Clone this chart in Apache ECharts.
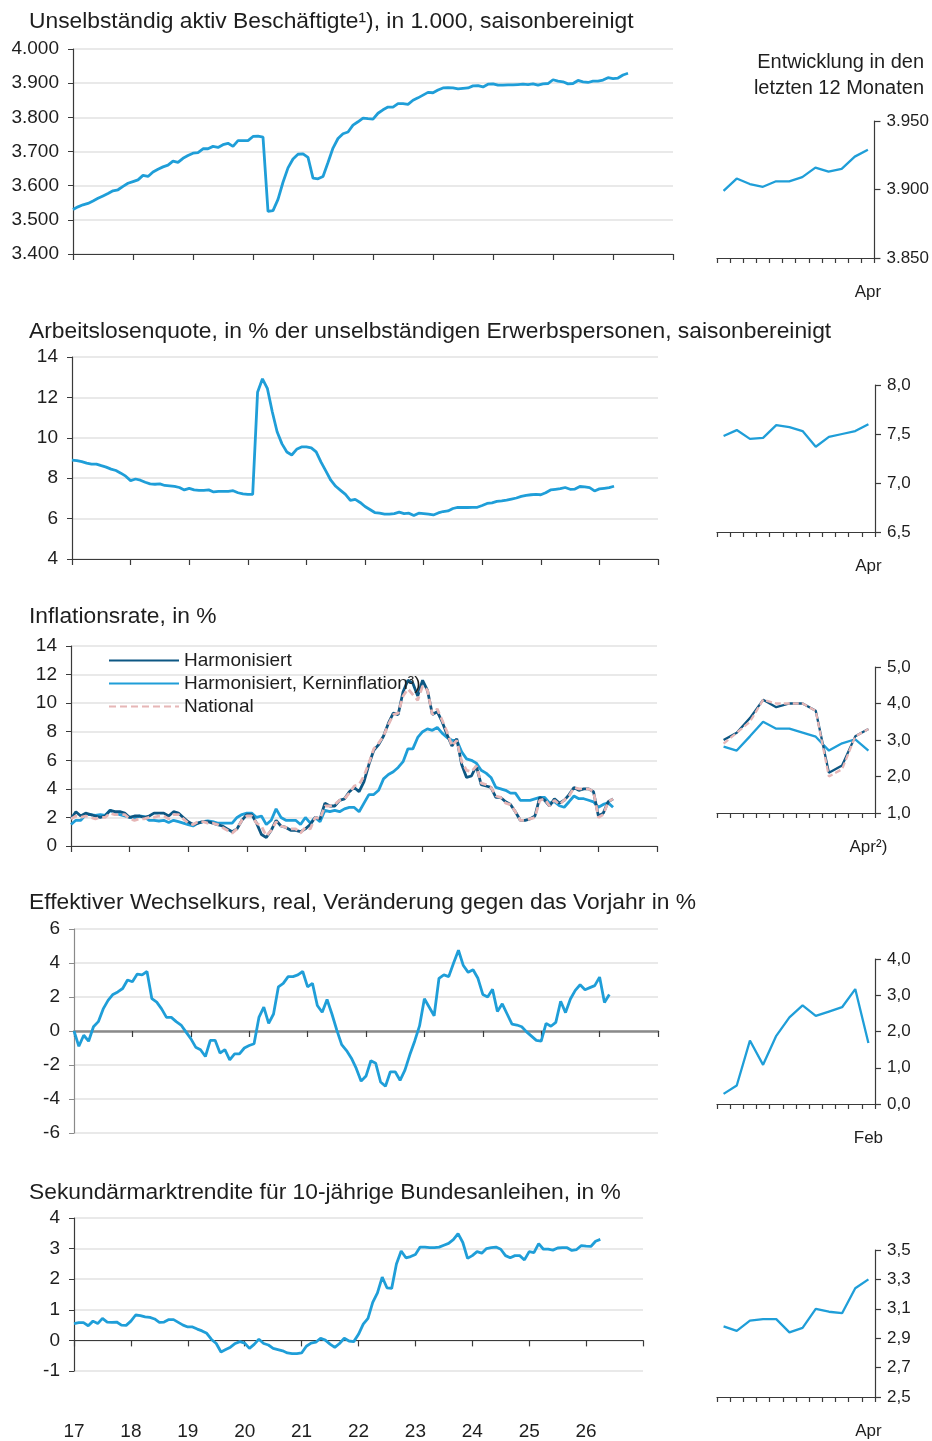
<!DOCTYPE html>
<html>
<head>
<meta charset="utf-8">
<script src="https://cdn.jsdelivr.net/npm/echarts@6/dist/echarts.min.js"></script>
<style>
  html, body { margin: 0; padding: 0; background: #fff; }
  #chart { width: 932px; height: 1441px; }
</style>
</head>
<body>
<div id="chart"></div>
<script>
// monthly data, Jan 2017 onwards
const employment = [
  3530, 3538, 3544, 3548, 3555, 3563, 3570, 3577, 3585, 3588, 3598, 3607,
  3612, 3617, 3630, 3627, 3640, 3648, 3655, 3660, 3672, 3668, 3680, 3688,
  3695, 3697, 3708, 3708, 3715, 3712, 3720, 3724, 3715, 3732, 3732, 3732,
  3744, 3745, 3742, 3525, 3527, 3560, 3610, 3652, 3678, 3692, 3693, 3683,
  3622, 3620, 3627, 3668, 3710, 3738, 3752, 3757, 3777, 3787, 3798, 3796,
  3795, 3812, 3822, 3830, 3830, 3840, 3840, 3838, 3850, 3857, 3865, 3873,
  3872, 3880, 3886, 3887, 3886, 3883, 3885, 3886, 3892, 3893, 3889, 3897,
  3898, 3894, 3894, 3895, 3895, 3896, 3897, 3896, 3898, 3894, 3898, 3899,
  3910, 3906, 3904, 3898, 3899, 3908, 3904, 3902, 3906, 3906, 3909, 3916,
  3913, 3915, 3924, 3929
];
const unemployment = [
  8.9, 8.87, 8.82, 8.75, 8.7, 8.7, 8.62, 8.55, 8.45, 8.38, 8.25, 8.1,
  7.88, 7.96, 7.9, 7.8, 7.72, 7.7, 7.72, 7.64, 7.62, 7.6, 7.54, 7.42,
  7.5, 7.42, 7.4, 7.4, 7.42, 7.32, 7.35, 7.35, 7.35, 7.38, 7.28, 7.22,
  7.2, 7.2, 12.25, 12.92, 12.45, 11.3, 10.3, 9.7, 9.3, 9.15, 9.43, 9.55,
  9.55, 9.5, 9.3, 8.8, 8.35, 7.9, 7.6, 7.4, 7.2, 6.9, 6.95, 6.8,
  6.6, 6.45, 6.3, 6.27, 6.22, 6.22, 6.25, 6.32, 6.25, 6.27, 6.15, 6.27,
  6.25, 6.22, 6.18, 6.28, 6.35, 6.38, 6.5, 6.55, 6.55, 6.55, 6.56, 6.56,
  6.65, 6.75, 6.78, 6.85, 6.88, 6.92, 6.97, 7.02, 7.1, 7.15, 7.18, 7.2,
  7.18, 7.28, 7.42, 7.45, 7.48, 7.54, 7.45, 7.46, 7.59, 7.57, 7.53, 7.37,
  7.47, 7.5, 7.53, 7.6
];
const hicp = [
  1.9, 2.4, 2.1, 2.3, 2.2, 2.1, 2.0, 2.1, 2.5, 2.4, 2.4, 2.3,
  2.0, 2.1, 2.1, 2.0, 2.1, 2.3, 2.3, 2.3, 2.1, 2.4, 2.3, 2.0,
  1.7, 1.5, 1.6, 1.7, 1.7, 1.6, 1.5, 1.4, 1.2, 1.0, 1.2, 1.8,
  2.2, 2.2, 1.6, 0.8, 0.6, 1.1, 1.8, 1.4, 1.3, 1.1, 1.1, 1.0,
  1.2, 1.5, 2.0, 1.9, 3.0, 2.8, 2.8, 3.2, 3.3, 3.8, 4.1, 3.8,
  4.5, 5.7, 6.7, 7.1, 7.7, 8.6, 9.3, 9.2, 10.8, 11.6, 11.4, 10.5,
  11.6, 10.9, 9.2, 9.4, 8.7, 7.8, 7.0, 7.5, 5.7, 4.8, 4.9, 5.6,
  4.3, 4.2, 4.1, 3.4, 3.4, 3.1, 2.9, 2.4, 1.8, 1.8, 1.9, 2.1,
  3.4, 3.2, 2.8, 3.3, 3.0, 3.2, 3.6, 4.1, 3.9, 4.0, 4.0, 3.8,
  2.1, 2.3, 3.1, 3.3
];
const hicpCore = [
  1.5, 1.8, 1.8, 2.2, 2.2, 2.15, 2.2, 2.15, 2.5, 2.3, 2.2, 2.1,
  2.0, 1.95, 2.1, 2.05, 1.8, 1.8, 1.75, 1.8, 1.65, 1.8, 1.7, 1.6,
  1.5, 1.4, 1.6, 1.7, 1.75, 1.7, 1.6, 1.6, 1.6, 1.6, 2.0, 2.2,
  2.3, 2.3, 2.0, 2.1, 1.5, 1.8, 2.6, 2.0, 1.8, 1.8, 1.8, 1.5,
  2.0, 1.6, 2.0, 1.7, 2.5, 2.4, 2.5, 2.4, 2.6, 2.7, 2.7, 2.4,
  3.0, 3.6, 3.6, 3.9, 4.7, 5.0, 5.2, 5.5, 5.9, 6.8, 6.8, 7.6,
  8.0, 8.2, 8.1, 8.3, 7.9, 7.6, 7.4, 7.4, 6.6, 6.1, 6.0, 5.8,
  5.3, 5.1, 4.8, 4.1, 4.0, 3.9, 3.7, 3.7, 3.2, 3.2, 3.2, 3.3,
  3.4, 3.4, 3.0, 3.1, 2.82, 2.71, 3.1, 3.5, 3.31, 3.31, 3.2, 3.09,
  2.71, 2.91, 3.02, 2.71
];
const cpiNational = [
  1.9, 2.1, 2.0, 2.1, 2.0, 1.9, 2.0, 2.0, 2.3, 2.2, 2.2, 2.2,
  1.9, 1.8, 1.9, 1.9, 2.0, 2.0, 2.1, 2.1, 1.9, 2.2, 2.2, 1.9,
  1.6, 1.5, 1.7, 1.7, 1.6, 1.6, 1.5, 1.3, 1.1, 0.9, 1.2, 1.8,
  2.1, 2.1, 1.6, 1.4, 0.7, 1.1, 1.7, 1.4, 1.3, 1.2, 1.2, 0.9,
  1.3, 1.2, 2.0, 1.9, 2.8, 2.8, 2.9, 3.2, 3.3, 3.7, 4.2, 4.3,
  4.9, 5.8, 6.8, 7.2, 7.7, 8.5, 9.2, 9.3, 10.5, 11.0, 10.6, 10.2,
  11.2, 10.9, 9.2, 9.6, 8.8, 8.0, 7.0, 7.4, 5.9, 5.3, 5.2, 5.6,
  4.4, 4.3, 4.1, 3.5, 3.4, 3.0, 2.9, 2.4, 1.8, 1.8, 1.9, 2.0,
  3.2, 3.3, 2.8, 3.2, 2.9, 3.2, 3.5, 4.1, 4.0, 4.0, 4.0, 3.8,
  2.0, 2.2, 3.1, 3.3
];
const exchangeRate = [
  0.0, -0.9, -0.25, -0.6, 0.25, 0.55, 1.3, 1.8, 2.15, 2.3, 2.5, 3.0,
  2.9, 3.35, 3.3, 3.5, 1.9, 1.7, 1.3, 0.8, 0.8, 0.55, 0.35, -0.05,
  -0.45, -0.95, -1.1, -1.5, -0.55, -0.55, -1.3, -1.1, -1.7, -1.35, -1.35, -1.0,
  -0.85, -0.75, 0.8, 1.4, 0.45, 1.0, 2.6, 2.8, 3.2, 3.2, 3.3, 3.5,
  2.6, 2.8, 1.5, 1.1, 1.85, 1.0, 0.05, -0.8, -1.15, -1.6, -2.2, -2.95,
  -2.65, -1.75, -1.9, -3.0, -3.25, -2.4, -2.4, -2.9, -2.3, -1.4, -0.6, 0.3,
  1.9, 1.4, 0.9, 3.1, 3.3, 3.2, 4.0, 4.75, 3.85, 3.45, 3.6, 3.1,
  2.15, 2.0, 2.45, 1.15, 1.6, 1.0, 0.4, 0.35, 0.25, -0.05, -0.3, -0.55,
  -0.6, 0.45, 0.28, 0.51, 1.75, 1.08, 1.88, 2.39, 2.72, 2.43, 2.55, 2.67,
  3.17, 1.68, 2.15
];
const bondYield = [
  0.55, 0.58, 0.58, 0.48, 0.63, 0.55, 0.72, 0.6, 0.59, 0.6, 0.5, 0.49,
  0.63, 0.83, 0.81, 0.77, 0.75, 0.7, 0.59, 0.6, 0.68, 0.68, 0.59, 0.5,
  0.44, 0.44, 0.37, 0.31, 0.23, 0.03, -0.1, -0.38, -0.3, -0.22, -0.1, -0.04,
  -0.09, -0.26, -0.13, 0.04, -0.1, -0.15, -0.26, -0.3, -0.34, -0.41, -0.43, -0.43,
  -0.41, -0.19, -0.09, -0.06, 0.07, 0.01, -0.12, -0.23, -0.1, 0.07, -0.02, -0.04,
  0.2, 0.53, 0.72, 1.24, 1.55, 2.07, 1.72, 1.7, 2.5, 2.92, 2.7, 2.74,
  2.81, 3.05, 3.05, 3.03, 3.03, 3.05, 3.11, 3.17, 3.29, 3.49, 3.2, 2.68,
  2.77, 2.9, 2.85, 3.0, 3.03, 3.05, 2.98, 2.77, 2.7, 2.77, 2.77, 2.63,
  2.9, 2.87, 3.16, 2.98, 2.98, 2.95, 3.02, 3.03, 3.03, 2.94, 2.97, 3.10,
  3.08, 3.07, 3.24, 3.30
];

const yearLabels = ['17', '18', '19', '20', '21', '22', '23', '24', '25', '26'];
const monthsToApr = ['Mai', 'Jun', 'Jul', 'Aug', 'Sep', 'Okt', 'Nov', 'Dez', 'Jan', 'Feb', 'Mär', 'Apr'];
const monthsToFeb = ['Mär', 'Apr', 'Mai', 'Jun', 'Jul', 'Aug', 'Sep', 'Okt', 'Nov', 'Dez', 'Jan', 'Feb'];
const panelTitles = [
  'Unselbständig aktiv Beschäftigte¹), in 1.000, saisonbereinigt',
  'Arbeitslosenquote, in % der unselbständigen Erwerbspersonen, saisonbereinigt',
  'Inflationsrate, in %',
  'Effektiver Wechselkurs, real, Veränderung gegen das Vorjahr in %',
  'Sekundärmarktrendite für 10-jährige Bundesanleihen, in %'
];
const sideHeader = ['Entwicklung in den', 'letzten 12 Monaten'];
const seriesNames = ['Harmonisiert', 'Harmonisiert, Kerninflation³)', 'National'];

const FONT = '"Liberation Sans", Arial, sans-serif';
const TEXT = '#1e1e1e';
const BLUE = '#1f9ed8';
const NAVY = '#0d5783';
const PINK = '#e6b6b6';
const GRIDLINE = '#e9e9e9';
const AXIS = '#3a3a3a';

const thousands = v => (v / 1000).toFixed(3);
const comma1 = v => v.toFixed(1).replace('.', ',');
const plain = v => String(Math.round(v));

const grids = [], xAxes = [], yAxes = [], series = [];

function addMain(p) {
  const gi = grids.length;
  grids.push({ left: p.left, top: p.top, width: p.right - p.left, height: p.bottom - p.top });
  const xi = xAxes.length;
  xAxes.push({
    type: 'value', gridIndex: gi, min: 0, max: 120, interval: 12,
    axisLine: { onZero: true, lineStyle: { color: p.axisColor || AXIS, width: p.axisWidth || 1.2 } },
    axisTick: { show: true, length: 6, lineStyle: { color: AXIS, width: 1.2 } },
    axisLabel: p.years ? {
      show: true, margin: p.labelMargin, fontFamily: FONT, fontSize: 19, color: TEXT,
      formatter: v => (v < 120 ? yearLabels[v / 12] : '')
    } : { show: false },
    splitLine: { show: false }
  });
  const yi = yAxes.length;
  yAxes.push({
    type: 'value', gridIndex: gi, min: p.min, max: p.max, interval: p.interval,
    axisLine: { show: true, onZero: false, lineStyle: { color: p.yAxisColor || AXIS, width: 1.2 } },
    axisTick: { show: true, length: 5, lineStyle: { color: p.yAxisColor || AXIS } },
    axisLabel: { fontFamily: FONT, fontSize: 19, color: TEXT, margin: 14, formatter: p.fmt },
    splitLine: { show: true, lineStyle: { color: GRIDLINE, width: 2 } }
  });
  p.lines.forEach(l => series.push({
    name: l.name, type: 'line', xAxisIndex: xi, yAxisIndex: yi,
    data: l.data.map((v, i) => [i, v]),
    symbol: 'none', silent: true, z: l.z || 2,
    lineStyle: { color: l.color, width: l.width || 2.8, type: l.type || 'solid' },
    itemStyle: { color: l.color }
  }));
}

function addSmall(p) {
  const gi = grids.length;
  grids.push({ left: 717, top: p.top, width: 158, height: p.bottom - p.top });
  const xi = xAxes.length;
  xAxes.push({
    type: 'category', gridIndex: gi, data: p.cats, boundaryGap: true,
    axisLine: { lineStyle: { color: AXIS, width: 1.2 } },
    axisTick: { show: true, interval: 0, length: 5, lineStyle: { color: AXIS, width: 1.2 } },
    axisLabel: {
      interval: i => i === p.cats.length - 1, margin: 26,
      fontFamily: FONT, fontSize: 17, color: TEXT,
      formatter: v => v + (p.suffix || '')
    },
    splitLine: { show: false }
  });
  const yi = yAxes.length;
  yAxes.push({
    type: 'value', gridIndex: gi, position: 'right', min: p.min, max: p.max, interval: p.interval,
    axisLine: { show: true, onZero: false, lineStyle: { color: AXIS, width: 1.2 } },
    axisTick: { show: true, length: 6, lineStyle: { color: AXIS, width: 1.2 } },
    axisLabel: { fontFamily: FONT, fontSize: 17, color: TEXT, margin: 12, formatter: p.fmt },
    splitLine: { show: false }
  });
  p.lines.forEach(l => series.push({
    name: l.name, type: 'line', xAxisIndex: xi, yAxisIndex: yi,
    data: l.data, symbol: 'none', silent: true, z: l.z || 2,
    lineStyle: { color: l.color, width: 2.3, type: l.type || 'solid' },
    itemStyle: { color: l.color }
  }));
}

const last12 = arr => arr.slice(arr.length - 12);

// 1: employment
addMain({ left: 73, right: 673, top: 49, bottom: 254, min: 3400, max: 4000, interval: 100, fmt: thousands,
  lines: [{ data: employment, color: BLUE }] });
addSmall({ top: 121, bottom: 258, min: 3850, max: 3950, interval: 50, fmt: thousands, cats: monthsToApr,
  lines: [{ data: last12(employment), color: BLUE }] });

// 2: unemployment rate
addMain({ left: 72, right: 658, top: 357, bottom: 559, min: 4, max: 14, interval: 2, fmt: plain,
  lines: [{ data: unemployment, color: BLUE }] });
addSmall({ top: 385, bottom: 532, min: 6.5, max: 8, interval: 0.5, fmt: comma1, cats: monthsToApr,
  lines: [{ data: last12(unemployment), color: BLUE }] });

// 3: inflation
addMain({ left: 71, right: 657, top: 646, bottom: 846, min: 0, max: 14, interval: 2, fmt: plain,
  lines: [
    { name: seriesNames[1], data: hicpCore, color: BLUE, z: 2 },
    { name: seriesNames[0], data: hicp, color: NAVY, z: 3 },
    { name: seriesNames[2], data: cpiNational, color: PINK, type: [7, 4], z: 4 }
  ] });
addSmall({ top: 667, bottom: 813, min: 1, max: 5, interval: 1, fmt: comma1, cats: monthsToApr, suffix: '²)',
  lines: [
    { name: seriesNames[1], data: last12(hicpCore), color: BLUE, z: 2 },
    { name: seriesNames[0], data: last12(hicp), color: NAVY, z: 3 },
    { name: seriesNames[2], data: last12(cpiNational), color: PINK, type: [6, 3], z: 4 }
  ] });

// 4: real effective exchange rate (small panel ends Feb)
addMain({ left: 74, right: 658, top: 929, bottom: 1133, min: -6, max: 6, interval: 2, fmt: plain,
  axisColor: '#8a8a8a', axisWidth: 2.5, yAxisColor: '#8a8a8a',
  lines: [{ data: exchangeRate, color: BLUE }] });
addSmall({ top: 959, bottom: 1104, min: 0, max: 4, interval: 1, fmt: comma1, cats: monthsToFeb,
  lines: [{ data: exchangeRate.slice(98, 110), color: BLUE }] });

// 5: bond yields
addMain({ left: 74, right: 643, top: 1218, bottom: 1409, min: -1, max: 4, interval: 1, fmt: plain,
  years: true, labelMargin: 51,
  lines: [{ data: bondYield, color: BLUE }] });
addSmall({ top: 1250, bottom: 1397, min: 2.5, max: 3.5, interval: 0.2, fmt: comma1, cats: monthsToApr,
  lines: [{ data: last12(bondYield), color: BLUE }] });

const texts = [
  { x: 29, y: 22, text: panelTitles[0], size: 22.8 },
  { x: 29, y: 332, text: panelTitles[1], size: 22.8 },
  { x: 29, y: 617, text: panelTitles[2], size: 22.8 },
  { x: 29, y: 903, text: panelTitles[3], size: 22.8 },
  { x: 29, y: 1193, text: panelTitles[4], size: 22.8 },
  { x: 924, y: 62, text: sideHeader[0], size: 20, align: 'right' },
  { x: 924, y: 88, text: sideHeader[1], size: 20, align: 'right' }
];

const chart = echarts.init(document.getElementById('chart'));
chart.setOption({
  animation: false,
  backgroundColor: '#ffffff',
  grid: grids,
  xAxis: xAxes,
  yAxis: yAxes,
  series: series,
  legend: {
    left: 103, top: 646, orient: 'vertical', selectedMode: false,
    itemWidth: 70, itemHeight: 14, itemGap: 4,
    itemStyle: { opacity: 0, borderWidth: 0 },
    data: [seriesNames[0], seriesNames[1], seriesNames[2]],
    textStyle: { fontFamily: FONT, fontSize: 19, color: TEXT }
  },
  graphic: texts.map(t => ({
    type: 'text', x: t.x, y: t.y, silent: true,
    style: {
      text: t.text, font: t.size + 'px ' + FONT, fill: TEXT,
      textAlign: t.align || 'left', textVerticalAlign: 'middle', verticalAlign: 'middle'
    }
  }))
});

window.onresize = function () {
  chart.resize();
};
</script>
</body>
</html>
